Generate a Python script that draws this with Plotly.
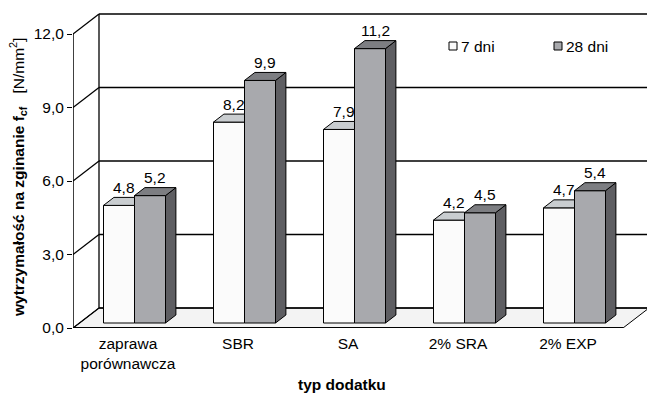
import plotly.graph_objects as go

# --- data -------------------------------------------------------------
categories = ["zaprawa<br>porównawcza", "SBR", "SA", "2% SRA", "2% EXP"]
series_names = ["7 dni", "28 dni"]
values_7 = [4.8, 8.2, 7.9, 4.2, 4.7]
values_28 = [5.2, 9.9, 11.2, 4.5, 5.4]
y_ticks = [0, 3, 6, 9, 12]
y_tick_labels = ["0,0", "3,0", "6,0", "9,0", "12,0"]

# --- geometry of the pseudo-3D frame (in axis units) ------------------
PX_X = 110.0          # pixels per category
PX_Y = 24.5           # pixels per unit of strength
DX = 26 / PX_X        # depth of the floor, horizontally
DY = 20 / PX_Y        # depth of the floor, vertically
F0, F1 = 0.25, 0.65   # front and back of the bars as a fraction of depth
BAR_W = 31 / PX_X
X_MIN = -0.5
X_MAX = X_MIN + 574 / PX_X
Y_MAX = 318 / PX_Y
Y_TOP = max(y_ticks)

base = F0 * DY
ddx = (F1 - F0) * DX
ddy = (F1 - F0) * DY
centers = [k + F0 * DX for k in range(len(categories))]

FONT = "Liberation Sans, Arial, sans-serif"
FS = 15.5
WHITE_FRONT, WHITE_TOP = "#fbfbfb", "#c9cdd0"
GREY_FRONT, GREY_TOP, GREY_SIDE = "#a8a9ad", "#7d7e82", "#5e5e62"


def px_x(px):
    return (px - 73) / PX_X + X_MIN


def px_y(py):
    return (328 - py) / PX_Y


def paper_x(px):
    return (px - 73) / 574


def paper_y(py):
    return (328 - py) / 318


fig = go.Figure()

# front faces of the bars
fig.add_trace(go.Bar(
    x=centers, y=values_7, base=base, width=BAR_W, offset=-BAR_W,
    marker=dict(color=WHITE_FRONT, line=dict(color="black", width=1)),
    name=series_names[0], showlegend=False, hoverinfo="skip"))
fig.add_trace(go.Bar(
    x=centers, y=values_28, base=base, width=BAR_W, offset=0,
    marker=dict(color=GREY_FRONT, line=dict(color="black", width=1)),
    name=series_names[1], showlegend=False, hoverinfo="skip"))


def faces(kind):
    xs, ys = [], []
    for c, v7, v28 in zip(centers, values_7, values_28):
        if kind == "white_top":
            xl, xr, h = c - BAR_W, c, base + v7
            pts = [(xl, h), (xr, h), (xr, h + ddy), (xl + ddx, h + ddy)]
        elif kind == "grey_top":
            xl, xr, h = c, c + BAR_W, base + v28
            pts = [(xl, h), (xr, h), (xr + ddx, h + ddy), (xl + ddx, h + ddy)]
        else:
            xr, h = c + BAR_W, base + v28
            pts = [(xr, base), (xr, h), (xr + ddx, h + ddy), (xr + ddx, base + ddy)]
        pts.append(pts[0])
        xs += [p[0] for p in pts] + [None]
        ys += [p[1] for p in pts] + [None]
    return xs, ys


for kind, col in [("white_top", WHITE_TOP), ("grey_side", GREY_SIDE), ("grey_top", GREY_TOP)]:
    xs, ys = faces(kind)
    fig.add_trace(go.Scatter(
        x=xs, y=ys, mode="lines", fill="toself", fillcolor=col,
        line=dict(color="black", width=1), showlegend=False, hoverinfo="skip"))

# value labels above the bars
annotations = []
for c, v7, v28 in zip(centers, values_7, values_28):
    for xc, v in [(c - BAR_W / 2 + ddx / 2, v7), (c + BAR_W / 2 + ddx / 2, v28)]:
        annotations.append(dict(
            x=xc, y=base + v + ddy + 10 / PX_Y, xref="x", yref="y",
            xanchor="center", yanchor="middle",
            text=f"{v:.1f}".replace(".", ","), showarrow=False,
            font=dict(family=FONT, size=FS, color="black")))

# legend
leg = [(453, WHITE_FRONT, series_names[0]), (558, GREY_FRONT, series_names[1])]
for px, col, name in leg:
    fig.add_trace(go.Scatter(
        x=[px_x(px)], y=[px_y(46)], mode="markers",
        marker=dict(symbol="square", size=8, color=col, line=dict(color="black", width=1)),
        showlegend=False, hoverinfo="skip"))
    annotations.append(dict(
        x=px_x(px + 6), y=px_y(46), xref="x", yref="y", text=name,
        showarrow=False, xanchor="left", yanchor="middle",
        font=dict(family=FONT, size=FS, color="black")))

# axis titles
annotations.append(dict(
    x=paper_x(342), y=paper_y(384), xref="paper", yref="paper",
    xanchor="center", yanchor="middle",
    text="<b>typ dodatku</b>", showarrow=False,
    font=dict(family=FONT, size=FS, color="black")))
annotations.append(dict(
    x=paper_x(18), y=paper_y(178), xref="paper", yref="paper", textangle=-90,
    xanchor="center", yanchor="middle",
    text="<b>wytrzymałość na zginanie f<sub>cf</sub></b>\u00a0\u00a0\u00a0[N/mm<sup>2</sup>]",
    showarrow=False, font=dict(family=FONT, size=FS, color="black")))

# walls, floor and grid of the 3D frame
shapes = []
bx0 = X_MIN + DX
shapes.append(dict(type="rect", x0=bx0, x1=X_MAX + 1, y0=DY, y1=Y_TOP + DY,
                   xref="x", yref="y", fillcolor="white", line=dict(width=0), layer="below"))
shapes.append(dict(type="path", xref="x", yref="y", layer="below",
                   path=f"M{X_MIN},0 L{X_MIN + 5},0 L{X_MIN + 5 + DX},{DY} L{bx0},{DY} Z",
                   fillcolor="#f3f3f3", line=dict(color="black", width=1)))
for v in y_ticks:
    shapes.append(dict(type="line", xref="x", yref="y", layer="below",
                       x0=bx0, x1=X_MAX + 1, y0=v + DY, y1=v + DY,
                       line=dict(color="black", width=1.3)))
    shapes.append(dict(type="line", xref="x", yref="y", layer="below",
                       x0=X_MIN, x1=bx0, y0=v, y1=v + DY,
                       line=dict(color="black", width=1.3)))
shapes.append(dict(type="line", xref="x", yref="y", layer="below",
                   x0=bx0, x1=bx0, y0=DY, y1=Y_TOP + DY, line=dict(color="black", width=1.3)))
shapes.append(dict(type="line", xref="x", yref="y", layer="below",
                   x0=X_MIN, x1=X_MIN, y0=0, y1=Y_TOP, line=dict(color="black", width=1.5)))
shapes.append(dict(type="line", xref="x", yref="y",
                   x0=X_MIN, x1=X_MIN + 5, y0=0, y1=0, line=dict(color="black", width=2.2)))

fig.update_layout(
    width=647, height=394,
    margin=dict(l=73, r=0, t=10, b=66),
    paper_bgcolor="white", plot_bgcolor="white",
    barmode="overlay",
    shapes=shapes, annotations=annotations,
    font=dict(family=FONT, size=FS, color="black"),
    xaxis=dict(range=[X_MIN, X_MAX], showgrid=False, zeroline=False, showline=False,
               tickvals=list(range(len(categories))), ticktext=categories,
               ticks="", ticklabelstandoff=4, tickfont=dict(size=FS)),
    yaxis=dict(range=[0, Y_MAX], showgrid=False, zeroline=False, showline=False,
               tickvals=y_ticks, ticktext=y_tick_labels, ticks="outside",
               ticklen=5, tickcolor="black", tickwidth=1.3, tickfont=dict(size=FS)),
)

fig.write_html("out.html")
